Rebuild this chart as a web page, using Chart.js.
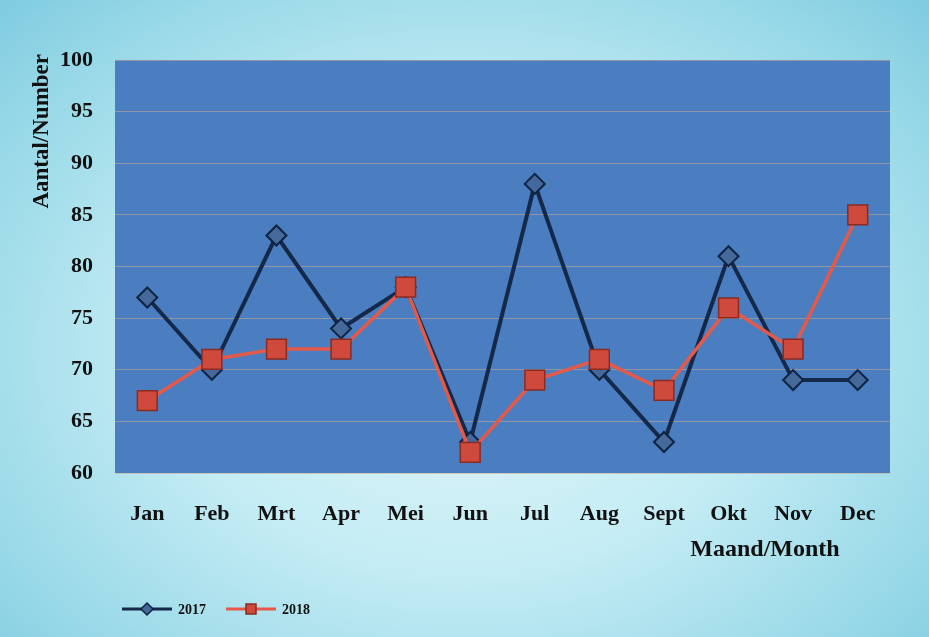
<!DOCTYPE html>
<html lang="en">
<head>
    <meta charset="UTF-8">
    <title>Aantal per maand 2017 - 2018</title>
    <script src="https://cdn.jsdelivr.net/npm/chart.js@4.4.1/dist/chart.umd.js"></script>
    <style>
        html, body { margin: 0; padding: 0; }
        body {
            width: 929px; height: 637px; overflow: hidden;
            background: radial-gradient(ellipse at 50% 55%, #e2f6fa 0%, #c4ecf4 45%, #93d6e6 85%, #7fcbe0 100%);
        }
        .chart-container { position: relative; width: 929px; height: 637px; }
    </style>
</head>
<body>
    <div class="chart-container">
        <canvas id="lineChart"></canvas>
    </div>
    <script>
        const months = ['Jan', 'Feb', 'Mrt', 'Apr', 'Mei', 'Jun', 'Jul', 'Aug', 'Sept', 'Okt', 'Nov', 'Dec'];
        const values2017 = [77, 70, 83, 74, 78, 63, 88, 70, 63, 81, 69, 69];
        const values2018 = [67, 71, 72, 72, 78, 62, 69, 71, 68, 76, 72, 85];
        const yTicks = [60, 65, 70, 75, 80, 85, 90, 95, 100];

        const serif = '"Liberation Serif", "Times New Roman", serif';

        // blue plot area, axis titles and legend drawn by hand
        const decor = {
            id: 'decor',
            beforeDraw(chart) {
                const { ctx, chartArea: a } = chart;
                ctx.save();
                ctx.fillStyle = '#4a7ec0';
                ctx.fillRect(a.left, a.top, a.right - a.left, a.bottom - a.top);
                ctx.restore();
            },
            afterDraw(chart) {
                const { ctx } = chart;
                ctx.save();
                ctx.fillStyle = '#111';
                ctx.font = 'bold 23px ' + serif;
                // y title, rotated, starting at top of axis
                ctx.translate(42, 54);
                ctx.rotate(-Math.PI / 2);
                ctx.textAlign = 'right';
                ctx.textBaseline = 'middle';
                ctx.fillText('Aantal/Number', 0, 0);
                ctx.restore();

                ctx.save();
                ctx.fillStyle = '#111';
                ctx.font = 'bold 24px ' + serif;
                ctx.textAlign = 'center';
                ctx.textBaseline = 'middle';
                ctx.fillText('Maand/Month', 765, 550);

                // legend
                const items = chart.data.datasets;
                let x = 122;
                const y = 609;
                ctx.font = 'bold 14px ' + serif;
                ctx.textAlign = 'left';
                items.forEach(ds => {
                    ctx.strokeStyle = ds.borderColor;
                    ctx.lineWidth = 3;
                    ctx.beginPath();
                    ctx.moveTo(x, y);
                    ctx.lineTo(x + 50, y);
                    ctx.stroke();
                    ctx.fillStyle = ds.pointBackgroundColor;
                    ctx.strokeStyle = ds.pointBorderColor;
                    ctx.lineWidth = 1.5;
                    const cx = x + 25;
                    if (ds.pointStyle === 'rectRot') {
                        ctx.beginPath();
                        ctx.moveTo(cx, y - 6); ctx.lineTo(cx + 6, y);
                        ctx.lineTo(cx, y + 6); ctx.lineTo(cx - 6, y);
                        ctx.closePath();
                    } else {
                        ctx.beginPath();
                        ctx.rect(cx - 5, y - 5, 10, 10);
                    }
                    ctx.fill();
                    ctx.stroke();
                    ctx.fillStyle = '#111';
                    ctx.fillText(ds.label, x + 56, y + 1);
                    x += 104;
                });
                ctx.restore();
            }
        };

        const ctx = document.getElementById('lineChart').getContext('2d');
        new Chart(ctx, {
            type: 'line',
            data: {
                labels: months,
                datasets: [
                    {
                        label: '2017',
                        data: values2017,
                        order: 2,
                        borderColor: '#14284a',
                        borderWidth: 4,
                        pointStyle: 'rectRot',
                        pointRadius: 10,
                        pointBackgroundColor: '#46699c',
                        pointBorderColor: '#0f2342',
                        pointBorderWidth: 2,
                        tension: 0
                    },
                    {
                        label: '2018',
                        data: values2018,
                        order: 1,
                        borderColor: '#e35a4b',
                        borderWidth: 3.5,
                        pointStyle: 'rect',
                        pointRadius: 14,
                        pointBackgroundColor: '#cf4a3c',
                        pointBorderColor: '#8c2a20',
                        pointBorderWidth: 1.5,
                        tension: 0
                    }
                ]
            },
            options: {
                responsive: true,
                maintainAspectRatio: false,
                animation: false,
                layout: { padding: { left: 0, right: 39, top: 60, bottom: 0 } },
                plugins: {
                    legend: { display: false },
                    tooltip: { enabled: false }
                },
                scales: {
                    x: {
                        offset: true,
                        grid: { display: false, drawTicks: false },
                        border: { display: false },
                        ticks: {
                            color: '#111',
                            padding: 28,
                            font: { family: serif, size: 22, weight: 'bold' }
                        },
                        afterFit(scale) { scale.height = 164; }
                    },
                    y: {
                        min: 60,
                        max: 100,
                        afterBuildTicks(scale) { scale.ticks = yTicks.map(v => ({ value: v })); },
                        grid: { color: 'rgba(205,170,140,0.55)', lineWidth: 1, drawTicks: false },
                        border: { display: false },
                        ticks: {
                            color: '#111',
                            padding: 22,
                            font: { family: serif, size: 22, weight: 'bold' }
                        },
                        afterFit(scale) { scale.width = 115; }
                    }
                }
            },
            plugins: [decor]
        });
    </script>
</body>
</html>
